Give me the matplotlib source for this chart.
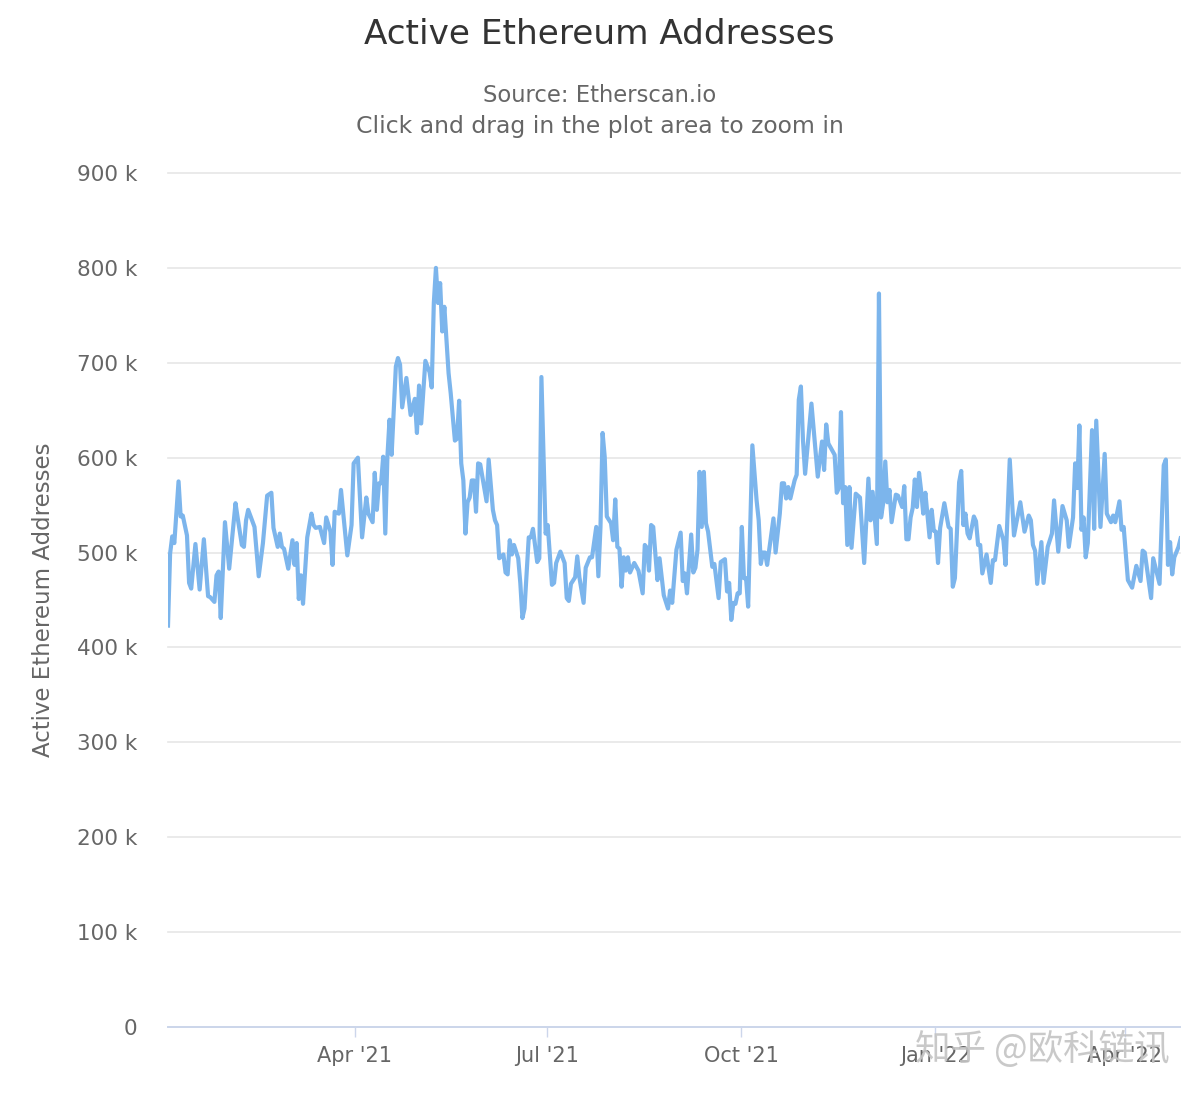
import matplotlib
matplotlib.use('Agg')
import matplotlib.pyplot as plt
import pandas as pd

plt.rcParams['font.family'] = ['DejaVu Sans', 'Noto Sans CJK SC']

START = pd.Timestamp("2021-01-02 10:00")

# days since START, active addresses in thousands
days = [0, 1, 2, 3, 5, 6, 7, 9, 10, 11, 13, 15, 17, 19, 20, 22, 23, 24, 25, 27, 29, 32, 33, 35, 36, 37, 38, 41, 43, 45,
        47, 49, 50, 52, 53, 54, 55, 57, 59, 60, 61, 62, 63, 64, 66, 68, 69, 70, 72, 74, 75, 77, 78, 79, 81, 82, 85, 87, 88, 90,
        92, 94, 95, 97, 98, 99, 100, 101, 102, 103, 104, 105, 106, 108, 109, 110, 111, 113, 115, 117, 118, 119, 120, 122, 124, 125, 126, 127, 128, 129,
        130, 131, 133, 134, 136, 137, 138, 139, 140, 141, 142, 143, 144, 145, 146, 147, 148, 151, 152, 154, 155, 156, 157, 159, 160, 161, 162, 163, 164, 166,
        167, 168, 169, 171, 172, 173, 175, 176, 177, 179, 180, 182, 183, 184, 186, 188, 189, 190, 191, 193, 194, 195, 197, 198, 200, 201, 203, 204, 205, 206,
        207, 208, 210, 211, 212, 213, 214, 215, 216, 217, 218, 219, 221, 223, 225, 226, 227, 228, 229, 230, 232, 233, 235, 237, 238, 239, 241, 243, 244, 245,
        246, 248, 249, 250, 251, 252, 253, 254, 255, 256, 258, 259, 261, 262, 264, 265, 266, 267, 268, 269, 270, 271, 272, 273, 274, 275, 277, 279, 280, 281,
        282, 283, 284, 287, 288, 290, 291, 292, 293, 294, 295, 297, 298, 299, 300, 301, 302, 305, 308, 310, 311, 312, 313, 316, 317, 318, 319, 320, 321, 322,
        323, 324, 326, 328, 330, 332, 333, 334, 336, 337, 338, 339, 340, 341, 342, 343, 345, 346, 348, 349, 350, 351, 352, 353, 354, 355, 356, 357, 358, 359,
        361, 362, 363, 364, 365, 366, 368, 370, 371, 372, 373, 375, 376, 377, 378, 379, 380, 382, 383, 384, 385, 386, 388, 390, 391, 392, 394, 396, 397, 399,
        401, 404, 406, 408, 409, 410, 411, 412, 414, 415, 417, 419, 420, 422, 424, 426, 427, 429, 430, 431, 432, 433, 434, 435, 436, 438, 439, 440, 442, 444,
        445, 447, 448, 449, 451, 452, 453, 455, 457, 459, 461, 462, 463, 466, 467, 470, 472, 473, 474, 475, 476, 477, 479, 480]
values = [423, 499, 517, 510, 575, 538, 539, 518, 468, 462, 509, 461, 514, 454, 453, 448, 476, 480, 431, 532, 483, 552, 537, 508, 506, 534, 545, 527, 475, 510,
          560, 563, 526, 506, 520, 506, 504, 483, 513, 487, 510, 451, 476, 446, 516, 541, 529, 526, 527, 510, 537, 522, 487, 543, 541, 566, 497, 529, 594, 600,
          516, 558, 541, 532, 584, 545, 573, 573, 601, 520, 601, 640, 603, 696, 705, 698, 653, 684, 645, 662, 626, 676, 636, 702, 690, 674, 763, 800, 763, 784,
          733, 759, 689, 668, 618, 620, 660, 594, 576, 520, 553, 558, 576, 576, 543, 594, 593, 554, 598, 545, 534, 529, 494, 498, 479, 477, 513, 498, 508, 494,
          468, 431, 441, 516, 516, 525, 490, 494, 685, 520, 529, 466, 468, 489, 501, 489, 452, 449, 467, 474, 496, 474, 447, 484, 495, 495, 527, 475, 527, 626,
          601, 538, 531, 513, 556, 506, 504, 464, 495, 481, 495, 479, 489, 481, 457, 508, 505, 481, 529, 527, 471, 494, 455, 441, 460, 447, 503, 521, 470, 478,
          457, 519, 479, 484, 503, 585, 527, 585, 531, 522, 485, 488, 452, 490, 493, 459, 468, 429, 447, 446, 457, 457, 527, 473, 473, 443, 613, 555, 534, 488,
          500, 500, 487, 536, 500, 541, 573, 573, 557, 569, 557, 576, 582, 661, 675, 618, 583, 657, 580, 617, 587, 635, 615, 603, 563, 568, 648, 552, 569, 508,
          569, 505, 562, 558, 489, 578, 534, 564, 509, 773, 537, 552, 596, 553, 566, 532, 561, 560, 548, 570, 514, 514, 537, 547, 577, 548, 584, 565, 541, 563,
          516, 545, 523, 522, 489, 526, 552, 527, 525, 464, 473, 574, 586, 529, 541, 520, 515, 538, 533, 508, 508, 478, 498, 468, 492, 492, 528, 513, 487, 598,
          518, 553, 522, 539, 534, 508, 502, 467, 511, 468, 506, 520, 555, 501, 549, 534, 506, 537, 594, 568, 634, 524, 537, 495, 510, 629, 525, 639, 527, 604,
          541, 532, 539, 532, 554, 524, 527, 471, 463, 486, 470, 502, 500, 452, 494, 467, 592, 598, 487, 511, 477, 495, 506, 515]

y_ticks = [0, 100, 200, 300, 400, 500, 600, 700, 800, 900]
y_labels = ["0", "100 k", "200 k", "300 k", "400 k", "500 k", "600 k", "700 k", "800 k", "900 k"]
x_ticks = ["2021-04-01", "2021-07-01", "2021-10-01", "2022-01-01", "2022-04-01"]
x_labels = ["Apr '21", "Jul '21", "Oct '21", "Jan '22", "Apr '22"]

dates = [START + pd.Timedelta(days=d) for d in days]

fig = plt.figure(figsize=(12, 11), dpi=100, facecolor='white')
ax = fig.add_axes([168 / 1200, 1 - 1027 / 1100, 1012 / 1200, 854 / 1100])

ax.plot(dates, values, color='#7cb5ec', lw=3.0, solid_joinstyle='round', zorder=3)

ax.set_ylim(0, 900)
ax.set_xlim(START, START + pd.Timedelta(days=479.7))
ax.set_yticks(y_ticks)
ax.set_yticklabels(y_labels, fontsize=15.5, color='#666666')
ax.set_xticks([pd.Timestamp(t) for t in x_ticks])
ax.set_xticklabels(x_labels, fontsize=15, color='#666666')

ax.grid(axis='y', color='#e6e6e6', lw=1.2, zorder=0)
for line in ax.get_ygridlines():
    line.set_clip_on(False)
ax.tick_params(axis='y', length=0, pad=22)
ax.tick_params(axis='x', length=7, width=1, color='#ccd6eb', pad=7)
for side in ['top', 'left', 'right']:
    ax.spines[side].set_visible(False)
ax.spines['bottom'].set_color('#ccd6eb')
ax.spines['bottom'].set_linewidth(1.4)

fig.text(599.5 / 1200, 1 - 35 / 1100, "Active Ethereum Addresses", ha='center', va='center',
         fontsize=24.7, color='#333333')
fig.text(599.5 / 1200, 1 - 96 / 1100, "Source: Etherscan.io", ha='center', va='center',
         fontsize=16.3, color='#666666')
fig.text(599.5 / 1200, 1 - 126 / 1100, "Click and drag in the plot area to zoom in", ha='center', va='center',
         fontsize=16.9, color='#666666')
fig.text(44 / 1200, 1 - 600 / 1100, "Active Ethereum Addresses", rotation=90, ha='center', va='center',
         fontsize=16.5, color='#666666')

# zhihu watermark over the last tick labels
fig.text(1042.5 / 1200, 1 - 1049 / 1100, "知乎 @欧科链讯", ha='center', va='center', fontsize=25.6,
         color='#c4c4c4', alpha=0.9, family=['Noto Sans CJK SC', 'DejaVu Sans'], zorder=10)

fig.savefig("out.png", dpi=100)
